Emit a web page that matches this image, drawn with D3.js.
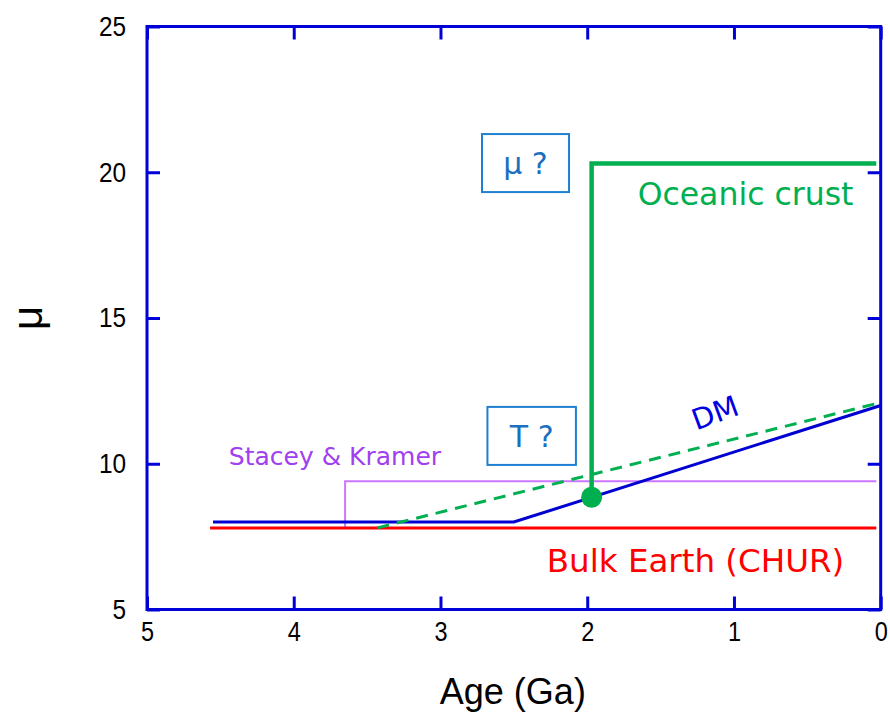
<!DOCTYPE html>
<html>
<head>
<meta charset="utf-8">
<script src="https://cdn.jsdelivr.net/npm/d3@7/dist/d3.min.js"></script>
<style>
  html, body { margin: 0; padding: 0; background: #fff; }
  svg { display: block; }
</style>
</head>
<body>
<svg id="chart" width="890" height="714"></svg>
<script>
// Axis ticks
const xTicks = [5, 4, 3, 2, 1, 0];
const yTicks = [5, 10, 15, 20, 25];

// Evolution curves: [age (Ga), mu]
const bulkEarth      = [[4.57, 7.8], [0.03, 7.8]];
const depletedMantle = [[4.55, 8.0], [2.5, 8.0], [0, 12.0]];
const crustTrend     = [[3.43, 7.8], [0, 12.1]];
const staceyKramer   = [[3.65, 7.8], [3.65, 9.4], [0.03, 9.4]];
const oceanicCrust   = [[1.97, 8.85], [1.97, 20.3], [0.03, 20.3]];
const extraction     = [1.97, 8.85];

// Question boxes: [ageLeft, ageRight, muTop, muBottom]
const boxNames  = ["μ ?", "T ?"];
const boxBounds = [[2.717, 2.124, 21.31, 19.32], [2.680, 2.077, 11.95, 9.96]];

const svg = d3.select("#chart");
const W = 890, H = 714;
const m = { left: 147, right: 9.3, top: 26.5, bottom: 104.5 };

const x = d3.scaleLinear().domain([5, 0]).range([m.left, W - m.right]);
const y = d3.scaleLinear().domain([5, 25]).range([H - m.bottom, m.top]);

const FRAME = "#0000d8";
const tickLen = 13;
const NARROW = 0.87;   // horizontal squeeze of the tick numerals

// Axes with inward ticks on all four sides
function styleAxis(g, showText) {
  g.select(".domain").remove();
  g.selectAll(".tick line").attr("stroke", FRAME).attr("stroke-width", 3);
  g.selectAll(".tick text")
    .attr("fill", "#000")
    .style("font-family", "'Liberation Sans', Arial, sans-serif")
    .style("display", showText ? null : "none");
}

const gx = svg.append("g")
  .attr("transform", `translate(0,${y(5)})`)
  .call(d3.axisBottom(x).tickValues(xTicks).tickFormat(d3.format("d"))
        .tickSize(-tickLen).tickPadding(12));
styleAxis(gx, true);
gx.selectAll(".tick text")
  .style("font-size", "27px")
  .attr("transform", `scale(${NARROW},1)`);

const gxTop = svg.append("g")
  .attr("transform", `translate(0,${y(25)})`)
  .call(d3.axisTop(x).tickValues(xTicks).tickSize(-tickLen));
styleAxis(gxTop, false);

const gy = svg.append("g")
  .attr("transform", `translate(${x(5)},0)`)
  .call(d3.axisLeft(y).tickValues(yTicks).tickFormat(d3.format("d"))
        .tickSize(-tickLen).tickPadding(24));
styleAxis(gy, true);
gy.selectAll(".tick text")
  .style("font-size", "28px")
  .attr("transform", `scale(${NARROW},1)`);

const gyRight = svg.append("g")
  .attr("transform", `translate(${x(0)},0)`)
  .call(d3.axisRight(y).tickValues(yTicks).tickSize(-tickLen));
styleAxis(gyRight, false);

// Plot frame
svg.append("rect")
  .attr("x", x(5)).attr("y", y(25))
  .attr("width", x(0) - x(5)).attr("height", y(5) - y(25))
  .attr("fill", "none").attr("stroke", FRAME).attr("stroke-width", 3);

// Axis titles
svg.append("text")
  .attr("x", (x(5) + x(0)) / 2 - 1).attr("y", 704)
  .attr("text-anchor", "middle")
  .style("font-family", "'Liberation Sans', Arial, sans-serif")
  .style("font-size", "36px")
  .text("Age (Ga)");

svg.append("text")
  .attr("transform", `translate(42,${(y(5) + y(25)) / 2})rotate(-90)`)
  .attr("text-anchor", "middle")
  .style("font-family", "'Liberation Sans', Arial, sans-serif")
  .style("font-size", "42px")
  .text("μ");

const line = d3.line().x(d => x(d[0])).y(d => y(d[1]));

// Reference curves
svg.append("path").datum(staceyKramer).attr("d", line)
  .attr("fill", "none").attr("stroke", "#cc77ff").attr("stroke-width", 2);

svg.append("path").datum(bulkEarth).attr("d", line)
  .attr("fill", "none").attr("stroke", "#ff0000").attr("stroke-width", 3);

svg.append("path").datum(depletedMantle).attr("d", line)
  .attr("fill", "none").attr("stroke", "#0000d0").attr("stroke-width", 3);

svg.append("path").datum(crustTrend).attr("d", line)
  .attr("fill", "none").attr("stroke", "#00b050").attr("stroke-width", 3)
  .attr("stroke-dasharray", "12,8");

svg.append("path").datum(oceanicCrust).attr("d", line)
  .attr("fill", "none").attr("stroke", "#00b050").attr("stroke-width", 4.5);

svg.append("circle")
  .attr("cx", x(extraction[0])).attr("cy", y(extraction[1])).attr("r", 10.5)
  .attr("fill", "#00b050");

// Question boxes
const BOX = "#1f7fd0";
boxBounds.forEach((b, i) => {
  svg.append("rect")
    .attr("x", x(b[0])).attr("y", y(b[2]))
    .attr("width", x(b[1]) - x(b[0])).attr("height", y(b[3]) - y(b[2]))
    .attr("fill", "#fff").attr("stroke", BOX).attr("stroke-width", 2);
  svg.append("text")
    .attr("x", (x(b[0]) + x(b[1])) / 2)
    .attr("y", (y(b[2]) + y(b[3])) / 2)
    .attr("dy", "0.36em")
    .attr("text-anchor", "middle")
    .attr("fill", "#1a6fc0")
    .style("font-family", "'DejaVu Sans', Verdana, sans-serif")
    .style("font-size", "30px")
    .text(boxNames[i]);
});

// Curve labels
const labelText  = ["Oceanic crust", "Bulk Earth (CHUR)", "Stacey & Kramer", "DM"];
const labelAge   = [0.921, 1.262, 3.719, 1.105];
const labelMu    = [18.88, 6.30, 9.96, 11.42];
const labelColor = ["#00b050", "#ff0000", "#a040f0", "#0000e0"];
const labelSize  = [31.5, 32.5, 25, 29];
const labelRot   = [0, 0, 0, -20];

labelText.forEach((t, i) => {
  svg.append("text")
    .attr("transform", `translate(${x(labelAge[i])},${y(labelMu[i])})rotate(${labelRot[i]})`)
    .attr("text-anchor", "middle")
    .attr("fill", labelColor[i])
    .style("font-family", "'DejaVu Sans', Verdana, sans-serif")
    .style("font-size", labelSize[i] + "px")
    .text(t);
});
</script>
</body>
</html>
